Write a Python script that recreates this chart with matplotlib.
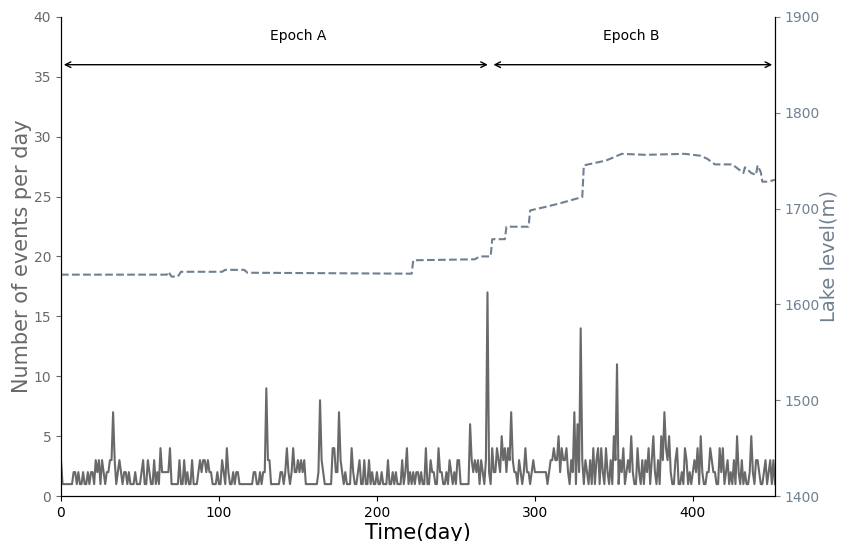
import numpy as np
import matplotlib.pyplot as plt

# daily event counts, day 0 .. 452
events = [
    3, 1, 1, 1, 1, 1, 1, 1, 2, 2,
    1, 2, 1, 1, 2, 1, 1, 2, 1, 2,
    2, 1, 3, 2, 3, 1, 3, 2, 1, 2,
    2, 3, 3, 7, 3, 1, 2, 3, 2, 1,
    2, 2, 1, 2, 1, 1, 1, 2, 1, 1,
    1, 2, 3, 1, 1, 3, 2, 1, 1, 3,
    1, 2, 1, 4, 2, 2, 2, 2, 2, 4,
    1, 1, 1, 1, 1, 3, 1, 1, 3, 1,
    2, 1, 1, 3, 1, 1, 1, 2, 3, 2,
    3, 3, 2, 3, 2, 2, 1, 1, 1, 2,
    1, 1, 3, 2, 1, 4, 2, 1, 1, 2,
    1, 2, 2, 1, 1, 1, 1, 1, 1, 1,
    1, 1, 2, 2, 1, 1, 2, 1, 2, 2,
    9, 3, 3, 1, 1, 1, 1, 1, 1, 2,
    2, 1, 2, 4, 2, 1, 2, 4, 2, 2,
    3, 2, 3, 2, 3, 1, 1, 1, 1, 1,
    1, 1, 1, 2, 8, 3, 2, 1, 1, 1,
    1, 1, 4, 4, 2, 2, 7, 3, 2, 1,
    2, 1, 1, 1, 4, 2, 1, 1, 2, 3,
    1, 1, 3, 1, 1, 3, 1, 2, 1, 1,
    2, 1, 1, 2, 1, 1, 1, 3, 1, 1,
    2, 1, 2, 1, 1, 1, 3, 1, 2, 4,
    1, 2, 1, 2, 1, 2, 2, 1, 2, 1,
    1, 4, 1, 1, 3, 2, 2, 1, 1, 4,
    2, 2, 1, 1, 2, 1, 3, 2, 1, 2,
    1, 3, 3, 1, 1, 1, 1, 1, 1, 6,
    3, 2, 3, 2, 3, 1, 3, 2, 1, 3,
    17, 2, 1, 4, 2, 2, 4, 3, 2, 5,
    3, 4, 2, 4, 3, 7, 3, 2, 2, 1,
    3, 2, 1, 2, 4, 2, 2, 1, 2, 3,
    2, 2, 2, 2, 2, 2, 2, 2, 1, 2,
    3, 3, 4, 3, 3, 5, 2, 4, 3, 3,
    4, 2, 1, 3, 2, 7, 1, 6, 2, 14,
    3, 1, 3, 2, 1, 3, 1, 4, 1, 3,
    4, 1, 4, 2, 1, 4, 2, 1, 3, 1,
    5, 3, 11, 1, 3, 2, 4, 1, 2, 3,
    2, 5, 2, 1, 1, 4, 2, 1, 3, 1,
    3, 2, 4, 1, 3, 5, 2, 1, 3, 1,
    5, 3, 7, 4, 3, 5, 2, 1, 1, 3,
    4, 1, 1, 2, 1, 4, 3, 1, 2, 1,
    2, 3, 2, 4, 1, 5, 2, 1, 1, 2,
    2, 4, 3, 2, 2, 1, 1, 4, 2, 4,
    1, 2, 3, 1, 2, 1, 3, 1, 5, 2,
    1, 3, 1, 2, 1, 1, 2, 5, 2, 1,
    3, 3, 2, 1, 1, 2, 3, 1, 2, 3,
    1, 3, 1,
]
days = np.arange(len(events))

# lake level (m) at the days where it changes
lake_days = [0, 67, 68, 70, 74, 76, 102, 104, 116, 118, 222, 223, 262, 265, 272, 273,
             281, 282, 296, 297, 305, 315, 330, 331, 345, 355, 370, 395, 405, 409,
             414, 425, 432, 433, 437, 440, 441, 443, 444, 448, 452]
lake_level = [1631, 1631, 1634, 1629, 1629, 1634, 1634, 1636, 1636, 1633, 1632, 1646,
              1647, 1650, 1650, 1668, 1668, 1681, 1681, 1698, 1701, 1705, 1712, 1745,
              1750, 1757, 1756, 1757, 1755, 1752, 1746, 1746, 1737, 1743, 1737, 1735,
              1745, 1738, 1728, 1728, 1730]

epoch_bounds = [0, 272, 452]
epoch_names = ['Epoch A', 'Epoch B']
epoch_label_x = [150, 361]

fig = plt.figure(figsize=(8.41, 5.41), dpi=100)
ax = fig.add_axes([0.0725, 0.083, 0.849, 0.886])

ax.plot(days, events, color='#696969', lw=1.5)
ax.set_xlim(0, 452)
ax.set_ylim(0, 40)
ax.set_yticks(range(0, 41, 5))
ax.set_xticks([0, 100, 200, 300, 400])
ax.set_xlabel('Time(day)', fontsize=15, labelpad=2)
ax.set_ylabel('Number of events per day', fontsize=15, color='#696969', labelpad=1)
ax.tick_params(axis='y', colors='#696969', labelsize=10)
ax.tick_params(axis='x', labelsize=10)
ax.spines['top'].set_visible(False)

# epoch arrows
for i, name in enumerate(epoch_names):
    x0, x1 = epoch_bounds[i], epoch_bounds[i + 1]
    ax.annotate('', xy=(x0, 36), xytext=(x1, 36),
                arrowprops=dict(arrowstyle='<->', color='black', lw=1))
    ax.text(epoch_label_x[i], 38.4, name, ha='center', va='center', fontsize=10)

ax2 = ax.twinx()
ax2.plot(lake_days, lake_level, color='#708090', lw=1.5, ls='--')
ax2.set_ylim(1400, 1900)
ax2.set_ylabel('Lake level(m)', fontsize=14, color='#708090', labelpad=0)
ax2.tick_params(axis='y', colors='#708090', labelsize=10)
ax2.spines['top'].set_visible(False)

fig.savefig('out.png', dpi=100)
